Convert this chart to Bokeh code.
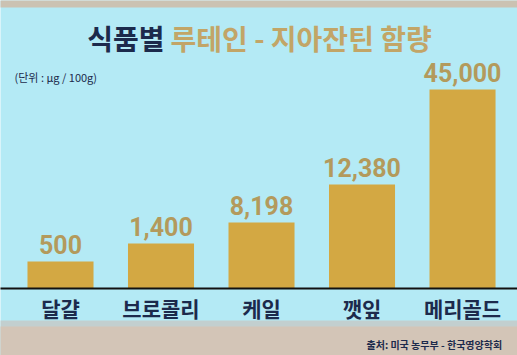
from bokeh.plotting import figure
from bokeh.models import ColumnDataSource, Label
from bokeh.core.properties import value
from bokeh.embed import file_html
from bokeh.resources import INLINE

# data
foods = ["달걀", "브로콜리", "케일", "깻잎", "메리골드"]
amounts = [500, 1400, 8198, 12380, 45000]          # ㎍ / 100g (labels)
bar_heights = [27, 45, 66, 104, 199]                # drawn bar heights (graphic is not to scale)
title_dark = "식품별"
title_gold = "루테인 - 지아잔틴 함량"
unit_text = "(단위 : μg / 100g)"
source_text = "출처: 미국 농무부 - 한국영양학회"

BG = "#b4eaf5"
BAR = "#d3a843"
VAL = "#b39a5c"
GOLD = "#c2a567"
NAVY = "#1c2a4c"
KR = "Noto Sans CJK KR"

W, H = 517, 355

idx = list(range(len(foods)))
src = ColumnDataSource(dict(
    x=idx, h=bar_heights, food=foods,
    lab=[f"{a:,}" for a in amounts],
))

p = figure(width=W, height=H, output_backend="svg", toolbar_location=None,
           x_range=(-0.597, 4.547), y_range=(-67, 288),
           background_fill_color=BG, border_fill_color=BG, min_border=0)
p.outline_line_color = None
p.axis.visible = False
p.grid.visible = False

# top strip and bottom band (stage)
p.quad(left=-1, right=6, bottom=281, top=300, fill_color="#cbc2b2", line_color=None)
p.quad(left=-1, right=6, bottom=-70, top=-32, fill_color="#c2cfcf", line_color=None)
p.quad(left=-1, right=6, bottom=-70, top=-38, fill_color="#d3c5b7", line_color=None)

p.vbar(x="x", top="h", bottom=0, width=0.657, source=src,
       fill_color=BAR, line_color=None)
p.segment(x0=-1, x1=6, y0=0, y1=0, line_color="#111111", line_width=2)

p.text(x="x", y="h", text="lab", source=src, text_align="center",
       text_baseline="alphabetic", y_offset=-17,
       text_font=value("Roboto"), text_font_style="bold", text_font_size="25px",
       text_color=VAL)
p.text(x="x", y=-19, text="food", source=src, text_align="center",
       text_baseline="middle", text_font=value(KR), text_font_style="bold",
       text_font_size="21px", text_color=NAVY)

p.add_layout(Label(x=164, y=H - 37, x_units="screen", y_units="screen", text=title_dark,
                   text_align="right", text_baseline="middle", text_font=KR,
                   text_font_style="bold", text_font_size="28px", text_color=NAVY))
p.add_layout(Label(x=170, y=H - 37, x_units="screen", y_units="screen", text=title_gold,
                   text_align="left", text_baseline="middle", text_font=KR,
                   text_font_style="bold", text_font_size="28px", text_color=GOLD))
p.add_layout(Label(x=14, y=H - 76, x_units="screen", y_units="screen", text=unit_text,
                   text_align="left", text_baseline="middle", text_font=KR,
                   text_font_size="11px", text_color=NAVY))
p.add_layout(Label(x=366, y=H - 344, x_units="screen", y_units="screen", text=source_text,
                   text_align="left", text_baseline="middle", text_font=KR,
                   text_font_style="bold", text_font_size="10px", text_color=NAVY))

open("out.html", "w").write(file_html(p, INLINE))
